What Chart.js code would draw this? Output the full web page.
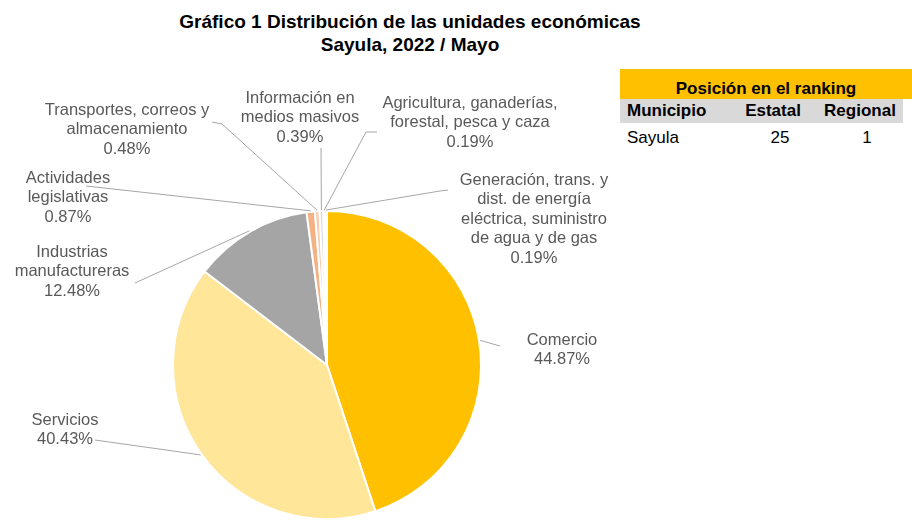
<!DOCTYPE html>
<html lang="es">
<head>
<meta charset="utf-8">
<title>Distribución de las unidades económicas - Sayula</title>
<script src="https://cdn.jsdelivr.net/npm/chart.js@4/dist/chart.umd.min.js"></script>
<style>
    html, body {
        margin: 0;
        padding: 0;
        background: #ffffff;
    }
    body {
        width: 912px;
        height: 520px;
        position: relative;
        overflow: hidden;
        font-family: "Liberation Sans", Arial, sans-serif;
    }
    #chart {
        position: absolute;
        left: 0;
        top: 0;
    }
    .title {
        position: absolute;
        left: 110px;
        top: 10px;
        width: 600px;
        text-align: center;
        font-weight: bold;
        font-size: 19px;
        line-height: 23px;
        color: #000;
    }
    .ranking {
        position: absolute;
        left: 620px;
        top: 69px;
        width: 292px;
        font-size: 17px;
        color: #000;
    }
    .ranking .head {
        background: #ffc000;
        height: 30px;
        line-height: 40px;
        text-align: center;
        font-weight: bold;
        box-sizing: border-box;
        padding-left: 8px;
        padding-right: 8px;
        overflow: hidden;
    }
    .ranking .row {
        position: relative;
        height: 24px;
        width: 283px;
    }
    .ranking .cols {
        background: #d9d9d9;
        font-weight: bold;
    }
    .ranking span {
        position: absolute;
        top: 2px;
        text-align: center;
    }
</style>
</head>
<body>
<div class="title">Gráfico 1 Distribución de las unidades económicas<br>Sayula, 2022 / Mayo</div>

<div class="ranking">
    <div class="head">Posición en el ranking</div>
    <div class="row cols">
        <span style="left:7px;text-align:left">Municipio</span>
        <span style="left:113px;width:80px">Estatal</span>
        <span style="left:200px;width:80px">Regional</span>
    </div>
    <div class="row">
        <span style="left:7px;top:5px;text-align:left">Sayula</span>
        <span style="left:120px;width:80px;top:5px">25</span>
        <span style="left:207px;width:80px;top:5px">1</span>
    </div>
</div>

<canvas id="chart" width="912" height="520"></canvas>

<script>
// Sectores económicos, en el orden de las manecillas del reloj desde las 12
const sectores = [
    'Comercio',
    'Servicios',
    'Industrias manufactureras',
    'Actividades legislativas',
    'Transportes, correos y almacenamiento',
    'Información en medios masivos',
    'Agricultura, ganaderías, forestal, pesca y caza',
    'Generación, trans. y dist. de energía eléctrica, suministro de agua y de gas'
];

// Porcentaje de unidades económicas
const porcentajes = [44.87, 40.43, 12.48, 0.87, 0.48, 0.39, 0.19, 0.19];

// Texto de cada etiqueta, partido en renglones
const etiquetas = [
    ['Comercio'],
    ['Servicios'],
    ['Industrias', 'manufactureras'],
    ['Actividades', 'legislativas'],
    ['Transportes, correos y', 'almacenamiento'],
    ['Información en', 'medios masivos'],
    ['Agricultura, ganaderías,', 'forestal, pesca y caza'],
    ['Generación, trans. y', 'dist. de energía', 'eléctrica, suministro', 'de agua y de gas']
];

const colores = ['#ffc000', '#ffe699', '#a5a5a5', '#f4b183', '#f8cbad', '#dbdbdb', '#bf9000', '#7f6000'];

// Dónde va cada etiqueta: centro del texto, punta de la guía y codo opcional
const posEtiquetas = [
    { x: 562, y: 340, punta: [500, 346] },
    { x: 65, y: 420, punta: [95, 440] },
    { x: 72, y: 252, punta: [135, 283] },
    { x: 68, y: 178, punta: [86, 186] },
    { x: 127, y: 110, punta: [212, 122], codo: [222, 124] },
    { x: 300, y: 98, punta: [321, 148] },
    { x: 470, y: 103, punta: [377, 132], codo: [366, 132] },
    { x: 534, y: 180, punta: [448, 190], codo: [440, 191] }
];

const etiquetasGuia = {
    id: 'etiquetasGuia',
    afterDatasetsDraw(chart) {
        const ctx = chart.ctx;
        const meta = chart.getDatasetMeta(0);
        const valores = chart.data.datasets[0].data;

        ctx.save();
        meta.data.forEach((arco, i) => {
            const pos = posEtiquetas[i];
            const medio = (arco.startAngle + arco.endAngle) / 2;
            const r = arco.outerRadius + 1;
            const x0 = arco.x + Math.cos(medio) * r;
            const y0 = arco.y + Math.sin(medio) * r;

            // guía desde el borde de la rebanada
            ctx.strokeStyle = '#a6a6a6';
            ctx.lineWidth = 1;
            ctx.beginPath();
            ctx.moveTo(x0, y0);
            if (pos.codo) ctx.lineTo(pos.codo[0], pos.codo[1]);
            ctx.lineTo(pos.punta[0], pos.punta[1]);
            ctx.stroke();

            // texto
            const renglones = etiquetas[i].concat(valores[i].toFixed(2) + '%');
            ctx.fillStyle = '#595959';
            ctx.font = '16.5px "Liberation Sans", Arial, sans-serif';
            ctx.textAlign = 'center';
            ctx.textBaseline = 'middle';
            renglones.forEach((t, k) => {
                ctx.fillText(t, pos.x, pos.y + k * 19.6);
            });
        });
        ctx.restore();
    }
};

new Chart(document.getElementById('chart'), {
    type: 'pie',
    data: {
        labels: sectores,
        datasets: [{
            data: porcentajes,
            backgroundColor: colores,
            borderColor: '#ffffff',
            borderWidth: 2,
            hoverOffset: 0
        }]
    },
    options: {
        responsive: false,
        animation: false,
        layout: {
            padding: { left: 172, right: 430, top: 210, bottom: 0 }
        },
        plugins: {
            legend: { display: false },
            tooltip: { enabled: false }
        }
    },
    plugins: [etiquetasGuia]
});
</script>
</body>
</html>
